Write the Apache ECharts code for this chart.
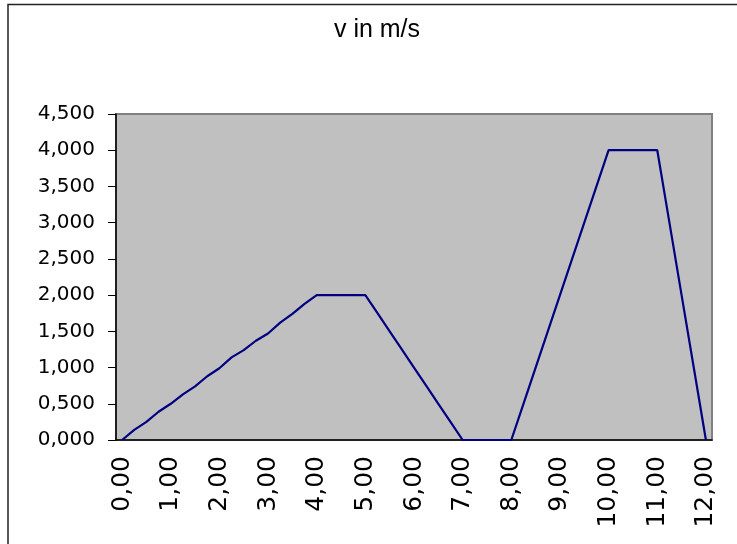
<!DOCTYPE html>
<html>
<head>
<meta charset="utf-8">
<script src="https://cdn.jsdelivr.net/npm/echarts@6/dist/echarts.min.js"></script>
<style>
  html, body { margin: 0; padding: 0; background: #ffffff; }
  #main { width: 737px; height: 544px; }
</style>
</head>
<body>
<div id="main"></div>
<script>
// Zeit in s (Kategorien, Schritt 0,25)
var times = [
  0, 0.25, 0.5, 0.75, 1, 1.25, 1.5, 1.75, 2, 2.25, 2.5, 2.75,
  3, 3.25, 3.5, 3.75, 4, 4.25, 4.5, 4.75, 5, 5.25, 5.5, 5.75,
  6, 6.25, 6.5, 6.75, 7, 7.25, 7.5, 7.75, 8, 8.25, 8.5, 8.75,
  9, 9.25, 9.5, 9.75, 10, 10.25, 10.5, 10.75, 11, 11.25, 11.5, 11.75, 12
];
// v in m/s
var speed = [
  0, 0.14, 0.25, 0.39, 0.50, 0.63, 0.74, 0.88, 0.99, 1.14, 1.24, 1.37,
  1.47, 1.62, 1.74, 1.88, 2.00, 2.00, 2.00, 2.00, 2.00, 1.75, 1.50, 1.25,
  1.00, 0.75, 0.50, 0.25, 0, 0, 0, 0, 0, 0.5, 1.0, 1.5,
  2.0, 2.5, 3.0, 3.5, 4.0, 4.0, 4.0, 4.0, 4.0, 3.0, 2.0, 1.0, 0
];
var chartTitle = 'v in m/s';

var myChart = echarts.init(document.getElementById('main'));

myChart.setOption({
  animation: false,
  backgroundColor: '#ffffff',
  title: {
    text: chartTitle,
    left: 372,
    top: 13,
    textAlign: 'center',
    textStyle: {
      fontFamily: 'Liberation Sans',
      fontSize: 25,
      fontWeight: 'normal',
      color: '#000'
    }
  },
  // Rahmen um das Diagramm
  graphic: [
    {
      type: 'rect',
      shape: { x: 8, y: 4.5, width: 800, height: 600 },
      style: { fill: 'none', stroke: '#222', lineWidth: 1.5 },
      silent: true
    }
  ],
  grid: {
    left: 116,
    right: 25,
    top: 114,
    bottom: 104,
    show: true,
    backgroundColor: '#C0C0C0',
    borderColor: '#808080',
    borderWidth: 2
  },
  xAxis: {
    type: 'category',
    data: times,
    boundaryGap: true,
    axisLine: { lineStyle: { color: '#000', width: 1.5 } },
    axisTick: {
      interval: 0,
      length: 8,
      lineStyle: { color: '#000', width: 1 }
    },
    axisLabel: {
      interval: 3,
      rotate: 90,
      margin: 16,
      fontFamily: 'DejaVu Sans',
      fontSize: 25,
      color: '#000',
      formatter: function (v) {
        return Number(v).toFixed(2).replace('.', ',');
      }
    },
    splitLine: { show: false }
  },
  yAxis: {
    type: 'value',
    min: 0,
    max: 4.5,
    interval: 0.5,
    axisLine: { show: true, lineStyle: { color: '#000', width: 1.5 } },
    axisTick: { show: true, length: 8, lineStyle: { color: '#000' } },
    axisLabel: {
      margin: 21,
      fontFamily: 'DejaVu Sans',
      fontSize: 20,
      color: '#000',
      formatter: function (v) {
        return v.toFixed(3).replace('.', ',');
      }
    },
    splitLine: { show: false }
  },
  series: [
    {
      name: chartTitle,
      type: 'line',
      data: speed,
      symbol: 'none',
      lineStyle: { color: '#000080', width: 2.2 }
    }
  ]
});
</script>
</body>
</html>
